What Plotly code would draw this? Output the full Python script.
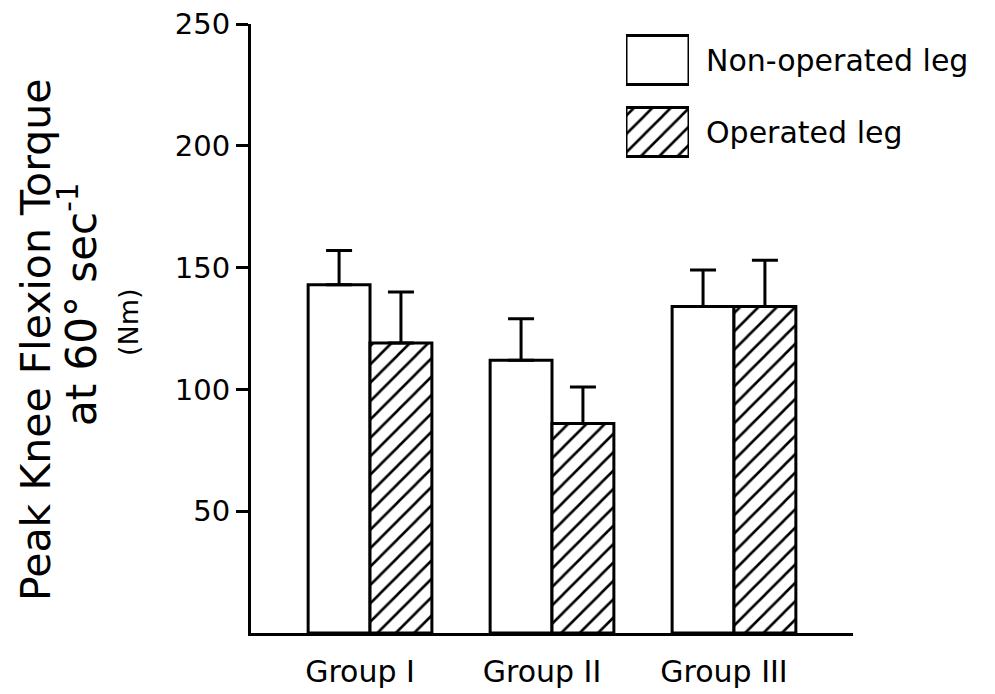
import plotly.graph_objects as go

# ---- data ----
groups = ["Group I", "Group II", "Group III"]
non_operated = [143, 112, 134]
non_operated_err = [14, 17, 15]
operated = [119, 86, 134]
operated_err = [21, 15, 19]
y_tick_vals = [50, 100, 150, 200, 250]
series_names = ["Non-operated leg", "Operated leg"]
legend_patterns = ["", "/"]

FONT = "DejaVu Sans"
x_pos = list(range(len(groups)))
label_pos = [p - 0.055 for p in x_pos]
pattern = dict(shape="/", fgcolor="black", bgcolor="white", fgopacity=1,
               size=13, solidity=0.2)
outline = dict(color="black", width=3)

fig = go.Figure()
fig.add_trace(go.Bar(
    x=x_pos, y=non_operated, name=series_names[0],
    marker=dict(color="white", line=outline),
    error_y=dict(type="data", symmetric=False, array=non_operated_err,
                 arrayminus=[0] * len(groups), color="black", thickness=3, width=13),
    showlegend=False, hoverinfo="skip",
))
fig.add_trace(go.Bar(
    x=x_pos, y=operated, name=series_names[1],
    marker=dict(color="white", pattern=pattern, line=outline),
    error_y=dict(type="data", symmetric=False, array=operated_err,
                 arrayminus=[0] * len(groups), color="black", thickness=3, width=13),
    showlegend=False, hoverinfo="skip",
))

# legend swatches drawn as a small horizontal bar chart on its own axes
fig.add_trace(go.Bar(
    y=series_names, x=[1] * len(series_names), orientation="h",
    xaxis="x2", yaxis="y2",
    marker=dict(color="white", line=outline,
                pattern=dict(shape=legend_patterns, fgcolor="black", bgcolor="white",
                             fgopacity=1, size=13, solidity=0.2)),
    showlegend=False, hoverinfo="skip", cliponaxis=False,
))

L, R, T, B = 251, 142, 24, 61
W, H = 995, 694
pw, ph = W - L - R, H - T - B

def px_x(p):
    return (p - L) / pw

def px_y(p):
    return min(max((H - B - p) / ph, 0.0), 1.0)

fig.update_layout(
    width=W, height=H,
    margin=dict(l=L, r=R, t=T, b=B),
    paper_bgcolor="white", plot_bgcolor="rgba(0,0,0,0)",
    barmode="group", bargap=0.32, bargroupgap=0,
    font=dict(family=FONT, color="black"),
    xaxis=dict(
        range=[-0.654, 2.654], tickvals=label_pos, ticktext=groups, automargin=False,
        showline=True, linecolor="black", linewidth=3, showgrid=False, zeroline=False,
        ticks="", tickfont=dict(size=30, family=FONT), ticklabelstandoff=10,
    ),
    yaxis=dict(
        range=[0, 250], tickvals=y_tick_vals, automargin=False,
        showline=True, linecolor="black", linewidth=3, showgrid=False, zeroline=False,
        ticks="outside", ticklen=12, tickwidth=3, tickcolor="black",
        tickfont=dict(size=29, family=FONT),
    ),
    xaxis2=dict(domain=[px_x(626), px_x(689)], range=[0, 1], anchor="y2",
                visible=False, fixedrange=True, automargin=False),
    yaxis2=dict(domain=[px_y(168), px_y(24)], range=[1.5, -0.5], anchor="x2",
                type="category", side="right", showline=False, showgrid=False,
                zeroline=False, ticks="", tickfont=dict(size=30, family=FONT),
                ticklabelstandoff=16, automargin=False),
    annotations=[
        dict(text="Peak Knee Flexion Torque", xref="paper", yref="paper",
             x=px_x(36), y=px_y(340), textangle=-90, showarrow=False,
             xanchor="center", yanchor="middle", font=dict(size=41, family=FONT)),
        dict(text="at 60° sec<sup>-1</sup>", xref="paper", yref="paper",
             x=px_x(78), y=px_y(305), textangle=-90, showarrow=False,
             xanchor="center", yanchor="middle", font=dict(size=42, family=FONT)),
        dict(text="(Nm)", xref="paper", yref="paper",
             x=px_x(128), y=px_y(322), textangle=-90, showarrow=False,
             xanchor="center", yanchor="middle", font=dict(size=27, family=FONT)),
    ],
)

fig.write_html("out.html", config={"displayModeBar": False},
               post_script="document.body.style.margin='0';")
